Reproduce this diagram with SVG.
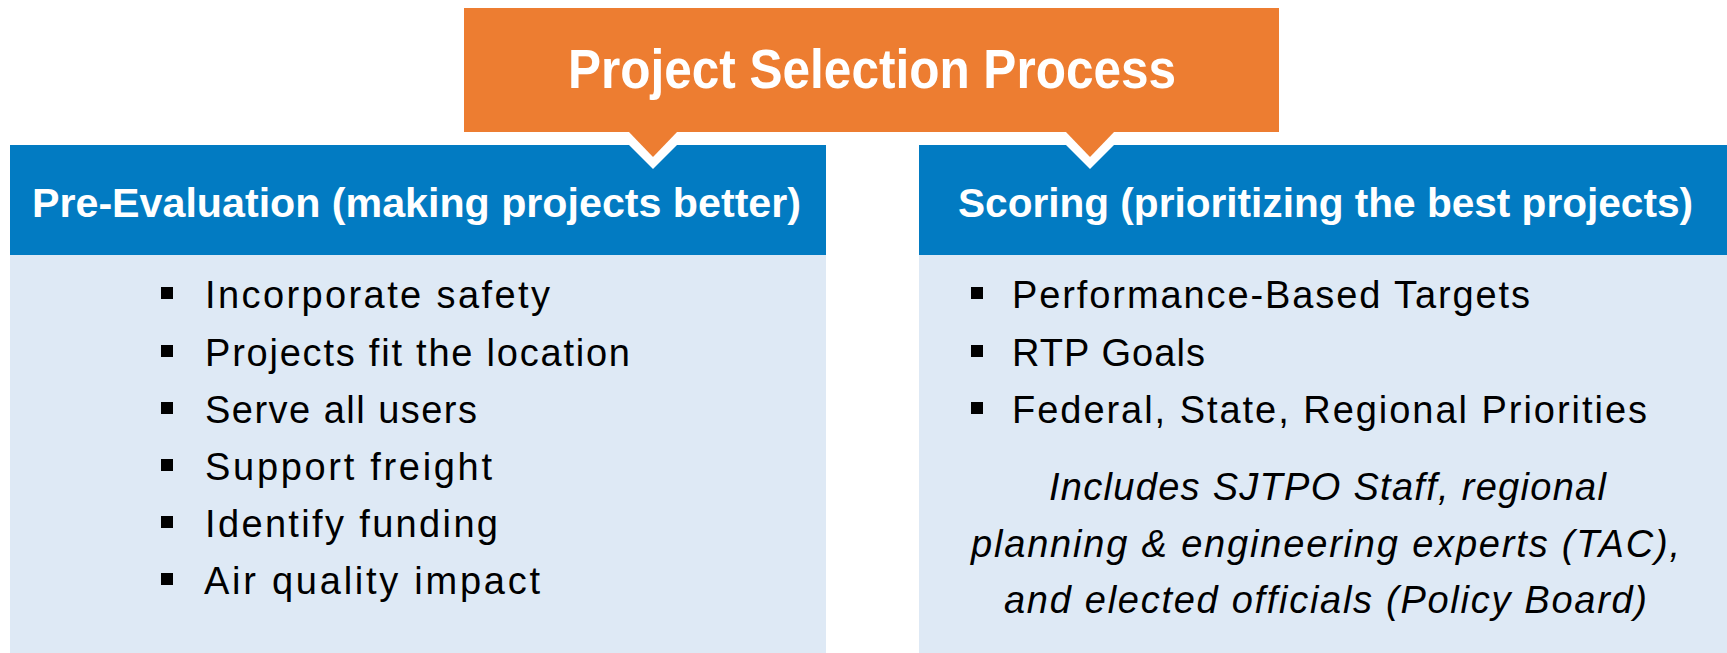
<svg xmlns="http://www.w3.org/2000/svg" width="1727" height="653" viewBox="0 0 1727 653">
  <style>
    .txt { font-family: "Liberation Sans", Arial, sans-serif; }
    .title { font-size: 55px; font-weight: bold; fill: #FFFFFF; }
    .head { font-size: 41px; font-weight: bold; fill: #FFFFFF; }
    .item { font-size: 38px; fill: #000000; }
    .note { font-size: 38px; font-style: italic; fill: #000000; }
    .hdr { fill: #027BC2; }
    .body { fill: #DEE9F5; }
    .bullet { fill: #000000; }
    .orange { fill: #ED7D31; }
  </style>

  <rect width="1727" height="653" fill="#FFFFFF"/>

  <!-- Pre-Evaluation panel -->
  <g id="pre-evaluation">
    <rect class="hdr" x="10" y="145" width="816" height="110"/>
    <rect class="body" x="10" y="255" width="816" height="398"/>
    <text class="txt head" x="32" y="217" textLength="769" lengthAdjust="spacingAndGlyphs">Pre-Evaluation (making projects better)</text>
    <rect class="bullet" x="161" y="287" width="12" height="12"/>
    <rect class="bullet" x="161" y="345" width="12" height="12"/>
    <rect class="bullet" x="161" y="402" width="12" height="12"/>
    <rect class="bullet" x="161" y="459" width="12" height="12"/>
    <rect class="bullet" x="161" y="516" width="12" height="12"/>
    <rect class="bullet" x="161" y="573" width="12" height="12"/>
    <text class="txt item" x="205" y="308" textLength="345" lengthAdjust="spacing">Incorporate safety</text>
    <text class="txt item" x="205" y="366" textLength="425" lengthAdjust="spacing">Projects fit the location</text>
    <text class="txt item" x="205" y="423" textLength="272" lengthAdjust="spacing">Serve all users</text>
    <text class="txt item" x="205" y="480" textLength="287" lengthAdjust="spacing">Support freight</text>
    <text class="txt item" x="205" y="537" textLength="293" lengthAdjust="spacing">Identify funding</text>
    <text class="txt item" x="204" y="594" textLength="336" lengthAdjust="spacing">Air quality impact</text>
  </g>

  <!-- Scoring panel -->
  <g id="scoring">
    <rect class="hdr" x="919" y="145" width="808" height="110"/>
    <rect class="body" x="919" y="255" width="808" height="398"/>
    <text class="txt head" x="958" y="217" textLength="735" lengthAdjust="spacingAndGlyphs">Scoring (prioritizing the best projects)</text>
    <rect class="bullet" x="971" y="287" width="12" height="12"/>
    <rect class="bullet" x="971" y="345" width="12" height="12"/>
    <rect class="bullet" x="971" y="402" width="12" height="12"/>
    <text class="txt item" x="1012" y="308" textLength="518" lengthAdjust="spacing">Performance-Based Targets</text>
    <text class="txt item" x="1012" y="366" textLength="193" lengthAdjust="spacing">RTP Goals</text>
    <text class="txt item" x="1012" y="423" textLength="635" lengthAdjust="spacing">Federal, State, Regional Priorities</text>
    <text class="txt note" x="1049" y="500" textLength="557" lengthAdjust="spacing">Includes SJTPO Staff, regional</text>
    <text class="txt note" x="971" y="557" textLength="709" lengthAdjust="spacing">planning &amp; engineering experts (TAC),</text>
    <text class="txt note" x="1004" y="613" textLength="643" lengthAdjust="spacing">and elected officials (Policy Board)</text>
  </g>

  <!-- Callout pointers from the title box into each panel -->
  <g id="connectors">
    <polygon fill="#FFFFFF" points="616,132 690,132 653,169"/>
    <polygon fill="#FFFFFF" points="1053,132 1127,132 1090,169"/>
    <polygon class="orange" points="628,131 678,131 653,157"/>
    <polygon class="orange" points="1065,131 1115,131 1090,157"/>
  </g>

  <!-- Title box -->
  <g id="title">
    <rect class="orange" x="464" y="8" width="815" height="124"/>
    <text class="txt title" x="568" y="88" textLength="608" lengthAdjust="spacingAndGlyphs">Project Selection Process</text>
  </g>
</svg>
